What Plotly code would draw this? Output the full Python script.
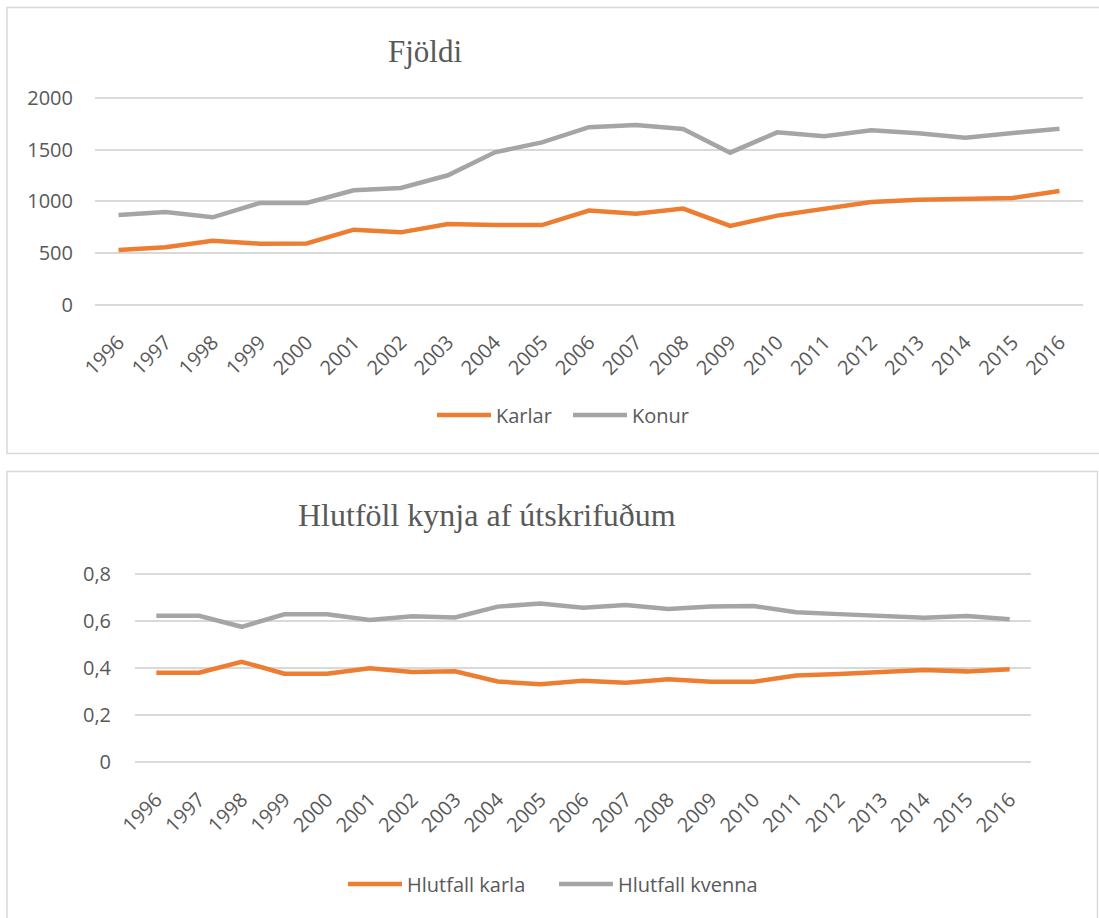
import plotly.graph_objects as go

W, H = 1099, 918

years = [str(y) for y in range(1996, 2017)]

karlar = [530, 556, 620, 591, 594, 727, 701, 782, 772, 772, 913, 882, 931, 763, 863,
          934, 995, 1018, 1031, 1034, 1102]
konur = [869, 898, 847, 985, 985, 1108, 1131, 1254, 1477, 1573, 1720, 1741, 1703, 1473,
         1670, 1632, 1690, 1661, 1619, 1664, 1706]

hlutfall_karla = [0.379, 0.379, 0.426, 0.375, 0.375, 0.398, 0.382, 0.385, 0.342, 0.330,
                  0.345, 0.337, 0.351, 0.341, 0.341, 0.367, 0.374, 0.382, 0.391, 0.385, 0.394]
hlutfall_kvenna = [0.622, 0.622, 0.575, 0.628, 0.628, 0.604, 0.620, 0.615, 0.661, 0.674,
                   0.656, 0.668, 0.651, 0.661, 0.664, 0.637, 0.629, 0.621, 0.614, 0.621, 0.607]

fjoldi_tickvals = [0, 500, 1000, 1500, 2000]
fjoldi_ticktext = ["0", "500", "1000", "1500", "2000"]
hlutfall_tickvals = [0, 0.2, 0.4, 0.6, 0.8]
hlutfall_ticktext = ["0", "0,2", "0,4", "0,6", "0,8"]

ORANGE = "#ED7D31"
GRAY = "#A5A5A5"
TXT = "#595959"
GRID = "#D9D9D9"
FONT = "Open Sans"


def px_x(v):
    return v / W


def px_y(v):
    return 1 - v / H


fig = go.Figure()

fig.add_trace(go.Scatter(x=years, y=karlar, name="Karlar", mode="lines",
                         line=dict(color=ORANGE, width=4.5), xaxis="x", yaxis="y",
                         legend="legend"))
fig.add_trace(go.Scatter(x=years, y=konur, name="Konur", mode="lines",
                         line=dict(color=GRAY, width=4.5), xaxis="x", yaxis="y",
                         legend="legend"))
fig.add_trace(go.Scatter(x=years, y=hlutfall_karla, name="Hlutfall karla", mode="lines",
                         line=dict(color=ORANGE, width=4.5), xaxis="x2", yaxis="y2",
                         legend="legend2"))
fig.add_trace(go.Scatter(x=years, y=hlutfall_kvenna, name="Hlutfall kvenna", mode="lines",
                         line=dict(color=GRAY, width=4.5), xaxis="x2", yaxis="y2",
                         legend="legend2"))

# top plot geometry (pixels)
t_y0, t_y2000 = 304.7, 98.3
t_ppu = (t_y0 - t_y2000) / 2000
t_pad = 20
b_y0, b_y08 = 761.7, 574.0
b_ppu = (b_y0 - b_y08) / 0.8
b_pad = 0.01

axis_common = dict(showline=False, zeroline=False, ticks="", automargin=False,
                   tickfont=dict(family=FONT, size=20, color=TXT))

fig.update_layout(
    template="none",
    width=W, height=H,
    margin=dict(l=0, r=0, t=0, b=0, pad=0, autoexpand=False),
    paper_bgcolor="white", plot_bgcolor="white",
    font=dict(family=FONT, color=TXT),
    xaxis=dict(domain=[px_x(95), px_x(1083)], type="category", range=[-0.5, 20.5],
               anchor="y", showgrid=False, tickangle=-45, ticklabelstandoff=19,
               **axis_common),
    yaxis=dict(domain=[px_y(t_y0 + t_pad * t_ppu), px_y(t_y2000 - t_pad * t_ppu)],
               range=[-t_pad, 2000 + t_pad], anchor="x", showgrid=True, gridcolor=GRID,
               gridwidth=1.5, tickvals=fjoldi_tickvals, ticktext=fjoldi_ticktext,
               ticklabelstandoff=21, **axis_common),
    xaxis2=dict(domain=[px_x(135), px_x(1031)], type="category", range=[-0.5, 20.5],
                anchor="y2", showgrid=False, tickangle=-45, ticklabelstandoff=19,
                **axis_common),
    yaxis2=dict(domain=[px_y(b_y0 + b_pad * b_ppu), px_y(b_y08 - b_pad * b_ppu)],
                range=[-b_pad, 0.8 + b_pad], anchor="x2", showgrid=True, gridcolor=GRID,
                gridwidth=1.5, tickvals=hlutfall_tickvals, ticktext=hlutfall_ticktext,
                ticklabelstandoff=23, **axis_common),
    legend=dict(orientation="h", x=px_x(568), xanchor="center", y=px_y(415),
                yanchor="middle", font=dict(family=FONT, size=20, color=TXT),
                itemwidth=54, entrywidth=67, bgcolor="rgba(0,0,0,0)"),
    legend2=dict(orientation="h", x=px_x(554), xanchor="center", y=px_y(884),
                 yanchor="middle", font=dict(family=FONT, size=20, color=TXT),
                 itemwidth=54, entrywidth=142, bgcolor="rgba(0,0,0,0)"),
    annotations=[
        dict(text="Fjöldi", xref="paper", yref="paper", x=px_x(425), y=px_y(51),
             xanchor="center", yanchor="middle", showarrow=False,
             font=dict(family="Liberation Serif", size=31, color=TXT)),
        dict(text="Hlutföll kynja af útskrifuðum", xref="paper", yref="paper",
             x=px_x(487), y=px_y(515), xanchor="center", yanchor="middle", showarrow=False,
             font=dict(family="Liberation Serif", size=32, color=TXT)),
    ],
    shapes=[
        dict(type="rect", xref="paper", yref="paper", x0=px_x(7), x1=px_x(1102),
             y0=px_y(453.5), y1=px_y(7.5), line=dict(color=GRID, width=1.5),
             fillcolor="rgba(0,0,0,0)", layer="below"),
        dict(type="rect", xref="paper", yref="paper", x0=px_x(7), x1=px_x(1097.5),
             y0=px_y(925), y1=px_y(471.5), line=dict(color=GRID, width=1.5),
             fillcolor="rgba(0,0,0,0)", layer="below"),
    ],
)

fig.write_html("out.html", post_script="document.body.style.margin='0';",
               config={"displayModeBar": False})
